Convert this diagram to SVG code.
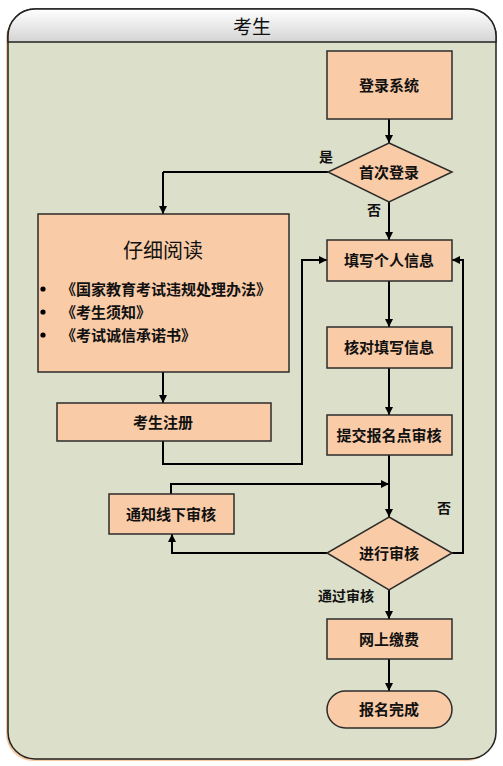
<svg xmlns="http://www.w3.org/2000/svg" width="503" height="766" viewBox="0 0 503 766">
<defs>
<linearGradient id="hdr" x1="0" y1="0" x2="0" y2="1">
<stop offset="0" stop-color="#ffffff"/>
<stop offset="1" stop-color="#d4d4d4"/>
</linearGradient>
<marker id="ah" viewBox="0 0 10 10" refX="10" refY="5" markerWidth="8" markerHeight="8" markerUnits="userSpaceOnUse" orient="auto">
<path d="M0,0 L10,5 L0,10 z" fill="#000"/>
</marker>
</defs>
<style>
.box{fill:#F9CBA7;stroke:#2b2b2b;stroke-width:1.5}
.t{font-family:"Noto Sans CJK SC","Noto Sans CJK JP",sans-serif;font-weight:bold;font-size:15px;fill:#111;text-anchor:middle;dominant-baseline:central}
.lbl{font-family:"Noto Sans CJK SC","Noto Sans CJK JP",sans-serif;font-weight:bold;font-size:14px;fill:#111;dominant-baseline:central}
.bl{font-family:"Noto Sans CJK SC","Noto Sans CJK JP",sans-serif;font-weight:bold;font-size:15px;fill:#111;dominant-baseline:central}
.c{fill:none;stroke:#000;stroke-width:2;marker-end:url(#ah)}
.cn{fill:none;stroke:#000;stroke-width:2}
</style>
<g id="frame">
<rect x="6" y="11" width="488" height="750" rx="27" fill="#F6C9A3"/>
<rect x="8" y="9" width="488" height="750" rx="27" fill="#DCE0CA" stroke="#222" stroke-width="1.5"/>
<path d="M8,42 L8,36 A27,27 0 0 1 35,9 L469,9 A27,27 0 0 1 496,36 L496,42 Z" fill="url(#hdr)" stroke="#222" stroke-width="1.5"/>
<text x="252" y="25" class="t" style="font-weight:normal;font-size:19px">考生</text>
</g>
<g id="connectors">
<path class="c" d="M389,119 L389,143"/>
<path class="cn" d="M328,172 L163,172"/>
<path class="c" d="M163,172 L163,214"/>
<path class="c" d="M389,202 L389,240"/>
<path class="c" d="M163,372 L163,403"/>
<path class="c" d="M163,441 L163,464 L302,464 L302,260 L327,260"/>
<path class="c" d="M389,281 L389,327"/>
<path class="c" d="M389,368 L389,415"/>
<path class="c" d="M389,455 L389,517"/>
<path class="c" d="M171,494 L171,484 L389,484"/>
<path class="c" d="M327,553 L172,553 L172,534"/>
<path class="c" d="M452,553 L463,553 L463,260 L452,260"/>
<path class="c" d="M389,590 L389,619"/>
<path class="c" d="M389,659 L389,691"/>
<text x="326" y="156" class="lbl" text-anchor="middle">是</text>
<text x="374" y="209" class="lbl" text-anchor="middle">否</text>
<text x="444" y="507" class="lbl" text-anchor="middle">否</text>
<text x="346" y="595" class="lbl" text-anchor="middle">通过审核</text>
</g>
<g id="n_login">
<rect class="box" x="327" y="51" width="125" height="68"/>
<text x="389" y="84" class="t">登录系统</text>
</g>
<g id="n_first">
<path class="box" d="M389,143 L452,172 L389,202 L328,172 Z"/>
<text x="389" y="171" class="t">首次登录</text>
</g>
<g id="n_read">
<rect class="box" x="38" y="214" width="251" height="158"/>
<text x="163" y="249" class="t" style="font-size:20px;font-weight:normal">仔细阅读</text>
<circle cx="43" cy="289" r="2.6" fill="#000"/>
<circle cx="43" cy="312" r="2.6" fill="#000"/>
<circle cx="43" cy="335" r="2.6" fill="#000"/>
<text x="61" y="288" class="bl">《国家教育考试违规处理办法》</text>
<text x="61" y="311" class="bl">《考生须知》</text>
<text x="61" y="334" class="bl">《考试诚信承诺书》</text>
</g>
<g id="n_fill">
<rect class="box" x="327" y="240" width="125" height="41"/>
<text x="389" y="259" class="t">填写个人信息</text>
</g>
<g id="n_check">
<rect class="box" x="327" y="327" width="125" height="41"/>
<text x="389" y="346" class="t">核对填写信息</text>
</g>
<g id="n_register">
<rect class="box" x="57" y="403" width="214" height="38"/>
<text x="163" y="421" class="t">考生注册</text>
</g>
<g id="n_submit">
<rect class="box" x="327" y="415" width="125" height="40"/>
<text x="389" y="434" class="t">提交报名点审核</text>
</g>
<g id="n_notify">
<rect class="box" x="109" y="494" width="125" height="40"/>
<text x="171" y="513" class="t">通知线下审核</text>
</g>
<g id="n_review">
<path class="box" d="M389,517 L452,553 L389,590 L327,553 Z"/>
<text x="389" y="552" class="t">进行审核</text>
</g>
<g id="n_pay">
<rect class="box" x="327" y="619" width="125" height="40"/>
<text x="389" y="638" class="t">网上缴费</text>
</g>
<g id="n_done">
<rect class="box" x="327" y="691" width="125" height="37" rx="18.5"/>
<text x="389" y="708" class="t">报名完成</text>
</g>
</svg>
